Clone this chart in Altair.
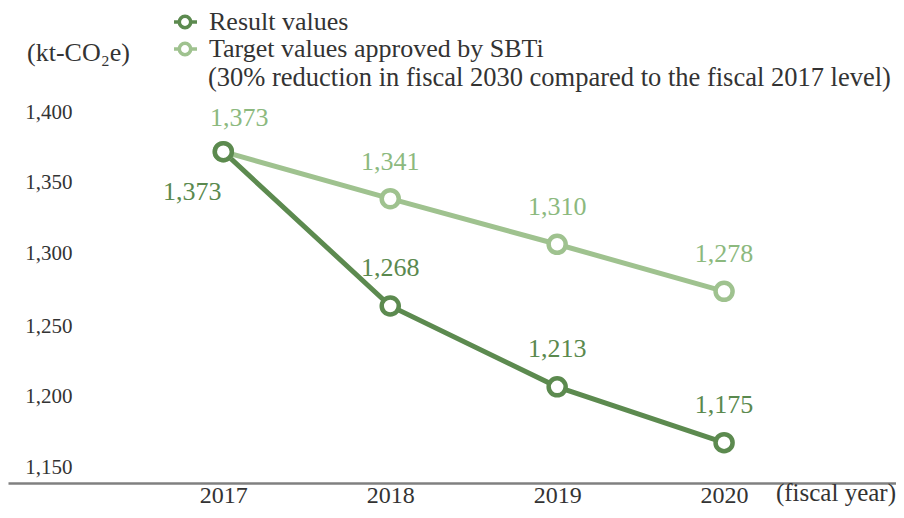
import altair as alt
import pandas as pd

years = [2017, 2018, 2019, 2020]
result_values = [1373, 1268, 1213, 1175]
target_values = [1373, 1341, 1310, 1278]
y_ticks = [1150, 1200, 1250, 1300, 1350, 1400]
series_names = ["Result values", "Target values approved by SBTi"]
legend_note = "(30% reduction in fiscal 2030 compared to the fiscal 2017 level)"
unit_label = "(kt-CO\u2082e)"
x_unit_label = "(fiscal year)"

DARK = "#5c8a4f"
LIGHT = "#9fc28f"
DARK_TXT = "#5a894e"
LIGHT_TXT = "#8cb97e"
AXIS_TXT = "#333333"
FONT = "Liberation Serif"

df = pd.DataFrame({
    "year": years * 2,
    "value": result_values + target_values,
    "series": ["Result"] * len(years) + ["Target"] * len(years),
})

W, H = 888, 475

xscale = alt.Scale(domain=[2015.71, 2021.03], nice=False, zero=False)
yscale = alt.Scale(domain=[1147.55, 1470.77], nice=False, zero=False)

x_axis = alt.Axis(values=years, format="d", title=None, grid=False, ticks=False,
                  domainColor="#808080", domainWidth=2.5, labelFont=FONT,
                  labelFontSize=24, labelColor=AXIS_TXT, labelPadding=12,
                  labelBaseline="middle")
y_axis = alt.Axis(values=y_ticks, format=",.0f", title=None, grid=False, ticks=False,
                  domain=False, labelFont=FONT, labelFontSize=21,
                  labelColor=AXIS_TXT, labelAlign="right", labelPadding=0,
                  offset=-64, labelBaseline="middle",
                  labelOffset={"condition": [
                      {"test": "datum.value == 1350", "value": -3},
                      {"test": "datum.value == 1300", "value": -5},
                      {"test": "datum.value == 1250", "value": -6},
                      {"test": "datum.value == 1200", "value": -9},
                      {"test": "datum.value == 1150", "value": -12},
                  ], "value": 0})

base = alt.Chart(df).encode(
    x=alt.X("year:Q", scale=xscale, axis=x_axis),
    y=alt.Y("value:Q", scale=yscale, axis=y_axis),
)

tgt = base.transform_filter("datum.series == 'Target'")
res = base.transform_filter("datum.series == 'Result'")

tgt_line = tgt.mark_line(color=LIGHT, strokeWidth=5)
res_line = res.mark_line(color=DARK, strokeWidth=5)
tgt_pts = tgt.mark_point(shape="circle", filled=True, fill="white", stroke=LIGHT,
                         strokeWidth=4.5, size=290, opacity=1)
res_pts = res.mark_point(shape="circle", filled=True, fill="white", stroke=DARK,
                         strokeWidth=4.5, size=290, opacity=1)

txt = dict(font=FONT, fontSize=26, align="center", baseline="middle")
tgt_lab = tgt.transform_filter("datum.year != 2017").mark_text(dy=-37, color=LIGHT_TXT, **txt).encode(
    text=alt.Text("value:Q", format=","))
res_lab = res.transform_filter("datum.year != 2017").mark_text(dy=-38, color=DARK_TXT, **txt).encode(
    text=alt.Text("value:Q", format=","))
tgt_lab0 = tgt.transform_filter("datum.year == 2017").mark_text(dx=16, dy=-34, color=LIGHT_TXT, **txt).encode(
    text=alt.Text("value:Q", format=","))
res_lab0 = res.transform_filter("datum.year == 2017").mark_text(dx=-31, dy=40, color=DARK_TXT, **txt).encode(
    text=alt.Text("value:Q", format=","))

# legend (drawn manually)
leg_df = pd.DataFrame({"label": series_names, "note": [legend_note, legend_note]})
leg = alt.Chart(leg_df)
leg_items = []
for i, (col, yy) in enumerate([(DARK, 14), (LIGHT, 41)]):
    one = leg.transform_filter(alt.datum.label == series_names[i])
    leg_items.append(one.mark_rule(color=col, strokeWidth=3.5).encode(
        x=alt.value(166), x2=alt.value(189), y=alt.value(yy)))
    leg_items.append(one.mark_point(shape="circle", filled=True, fill="white", stroke=col,
                                    strokeWidth=3.5, size=130, opacity=1).encode(
        x=alt.value(177), y=alt.value(yy)))
    leg_items.append(one.mark_text(font=FONT, fontSize=26, color=AXIS_TXT, align="left",
                                   baseline="middle").encode(
        x=alt.value(201), y=alt.value(yy), text="label:N"))
note = leg.transform_filter(alt.datum.label == series_names[1]).mark_text(
    font=FONT, fontSize=26.5, color=AXIS_TXT, align="left", baseline="middle").encode(
    x=alt.value(200), y=alt.value(70), text="note:N")
unit = leg.transform_filter(alt.datum.label == series_names[0]).mark_text(
    font=FONT, fontSize=26, color=AXIS_TXT, align="left", baseline="middle").encode(
    x=alt.value(19), y=alt.value(45), text=alt.value(unit_label))
xunit = leg.transform_filter(alt.datum.label == series_names[0]).mark_text(
    font=FONT, fontSize=25, color=AXIS_TXT, align="right", baseline="middle").encode(
    x=alt.value(W), y=alt.value(H + 10), text=alt.value(x_unit_label))

chart = alt.layer(
    tgt_line, res_line, tgt_pts, res_pts, tgt_lab, res_lab, tgt_lab0, res_lab0,
    *leg_items, note, unit, xunit,
).properties(
    width=W, height=H,
    autosize=alt.AutoSizeParams(type="none"),
    padding={"left": 0, "top": 0, "right": 0, "bottom": 24},
    background="white",
).configure_view(stroke=None)

chart.save("out.html", embed_options={"renderer": "svg", "actions": False})
